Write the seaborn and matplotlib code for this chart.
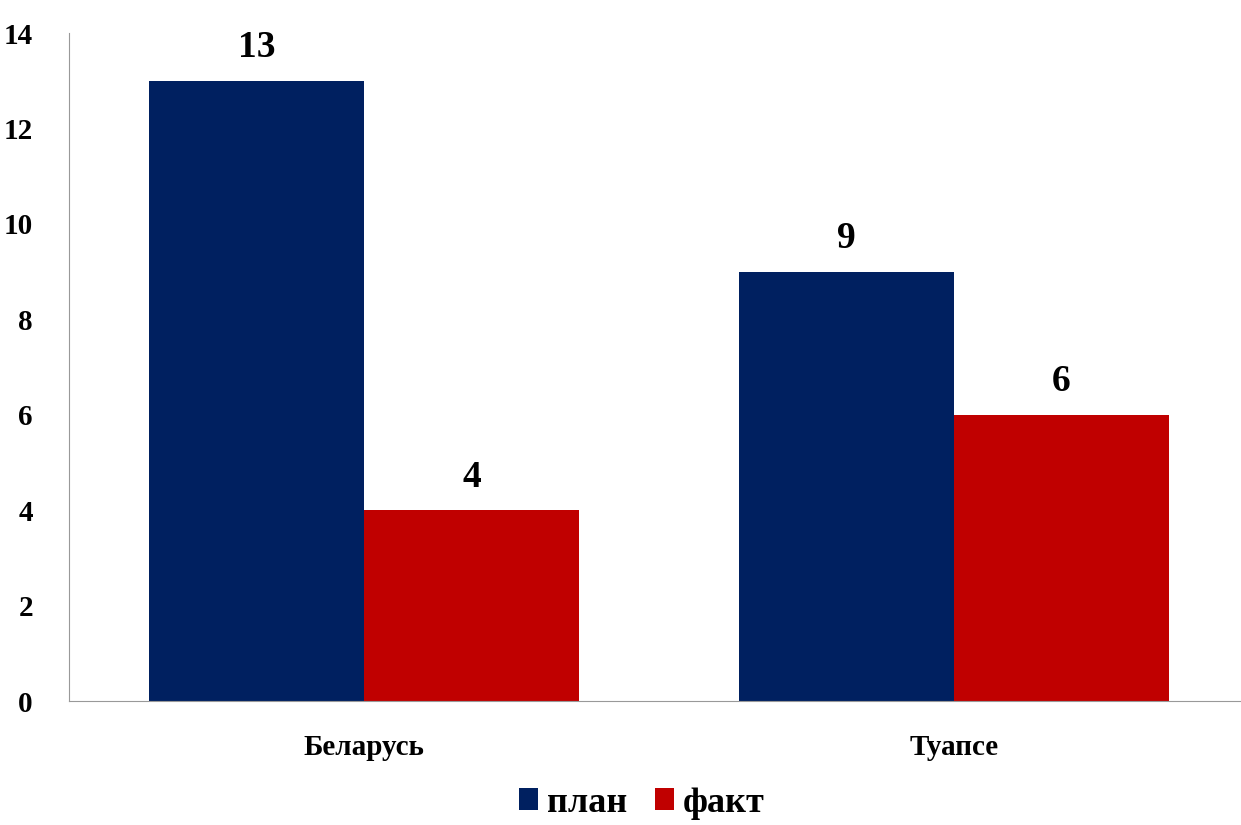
import pandas as pd
import matplotlib.pyplot as plt
import seaborn as sns

categories = ['Беларусь', 'Туапсе']
series = ['план', 'факт']
plan = [13, 9]
fact = [4, 6]
yticks = [0, 2, 4, 6, 8, 10, 12, 14]

df = pd.DataFrame({
    'Регион': categories * 2,
    'Серия': [series[0]] * 2 + [series[1]] * 2,
    'Значение': plan + fact,
})

sns.set_style('white')
plt.rcParams['font.family'] = ['Liberation Serif', 'DejaVu Serif']
plt.rcParams['font.weight'] = 'bold'
plt.rcParams['text.color'] = 'black'
plt.rcParams['xtick.color'] = 'black'
plt.rcParams['ytick.color'] = 'black'

fig = plt.figure(figsize=(12.41, 8.25), dpi=100)
# axis runs a little past the right edge of the picture, as in the reference
ax = fig.add_axes([69 / 1241, 1 - 701 / 825, (1249 - 69) / 1241, (701 - 33) / 825])

sns.barplot(data=df, x='Регион', y='Значение', hue='Серия',
            palette=['#002060', '#C00000'], width=0.729, saturation=1,
            linewidth=0, ax=ax, legend=True)

for c in ax.containers:
    ax.bar_label(c, fontsize=27, fontweight='bold', padding=11, color='black')

ax.set_xlim(-0.5, 1.5)
ax.set_ylim(0, 14)
ax.set_yticks(yticks)
ax.tick_params(axis='y', labelsize=21, length=0, pad=26)
ax.tick_params(axis='x', labelsize=21, length=0, pad=24)
for lab in ax.get_xticklabels() + ax.get_yticklabels():
    lab.set_fontweight('bold')
ax.set_xlabel('')
ax.set_ylabel('')
sns.despine(ax=ax, top=True, right=True)
ax.spines['left'].set_color('#999999')
ax.spines['bottom'].set_color('#999999')

ax.legend(loc='center', bbox_to_anchor=(0.5 - 17 / 1180, -0.153), ncol=2, frameon=False,
          prop={'size': 26, 'weight': 'bold'}, handlelength=0.53, handleheight=0.53,
          handletextpad=0.25, columnspacing=0.75)

fig.savefig('out.png', dpi=100)
